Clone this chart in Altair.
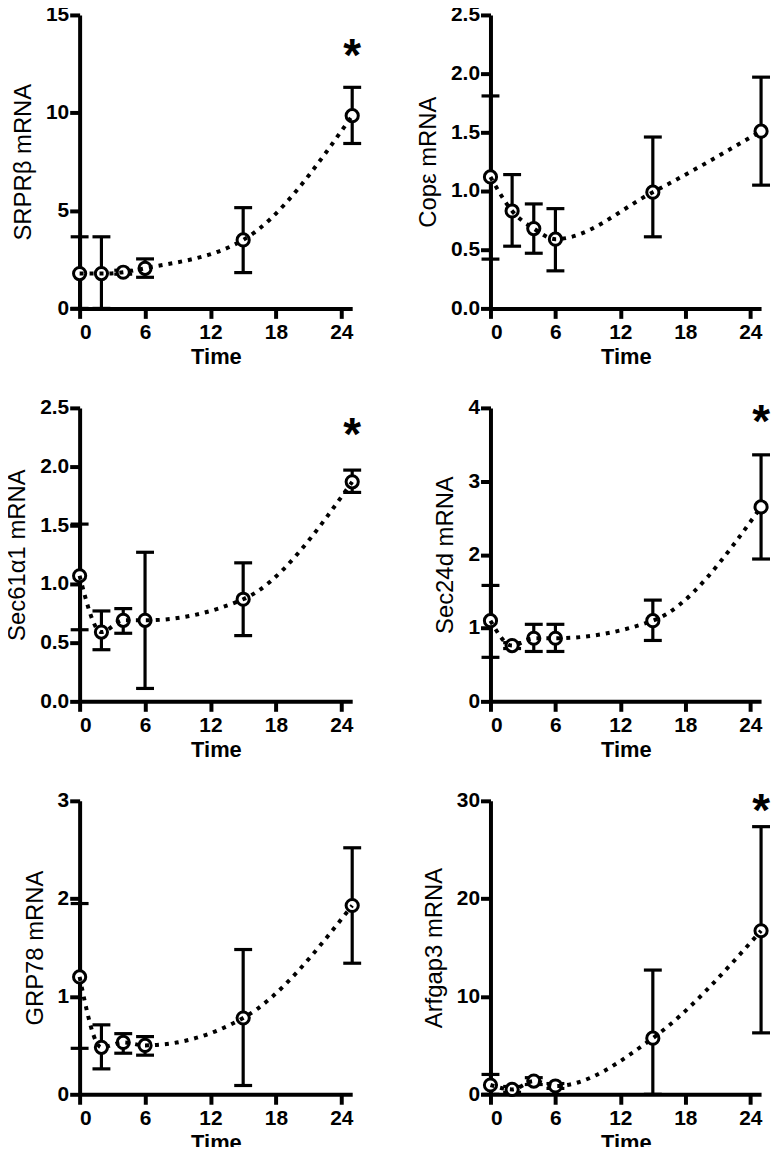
import altair as alt
import pandas as pd

time = [0, 2, 4, 6, 15, 25]
x_ticks = [0, 6, 12, 18, 24]

srpr_mean = [1.78, 1.78, 1.85, 2.05, 3.50, 9.85]
srpr_hi = [3.66, 3.66, 1.95, 2.53, 5.15, 11.30]
srpr_lo = [0.00, 0.00, 1.75, 1.59, 1.83, 8.43]

cope_mean = [1.12, 0.83, 0.68, 0.59, 0.99, 1.51]
cope_hi = [1.81, 1.14, 0.89, 0.85, 1.46, 1.97]
cope_lo = [0.42, 0.53, 0.47, 0.32, 0.61, 1.05]

sec61_mean = [1.07, 0.59, 0.69, 0.69, 0.87, 1.87]
sec61_hi = [1.51, 0.77, 0.79, 1.27, 1.18, 1.97]
sec61_lo = [0.61, 0.44, 0.58, 0.11, 0.56, 1.78]

sec24_mean = [1.10, 0.76, 0.86, 0.86, 1.10, 2.65]
sec24_hi = [1.58, 0.80, 1.05, 1.05, 1.38, 3.36]
sec24_lo = [0.60, 0.72, 0.68, 0.68, 0.83, 1.94]

grp_mean = [1.20, 0.48, 0.53, 0.50, 0.78, 1.93]
grp_hi = [1.95, 0.71, 0.62, 0.59, 1.48, 2.52]
grp_lo = [0.47, 0.26, 0.42, 0.40, 0.09, 1.34]

arf_mean = [0.95, 0.50, 1.35, 0.85, 5.74, 16.72]
arf_hi = [2.03, 0.80, 1.70, 1.10, 12.70, 27.36]
arf_lo = [0.00, 0.20, 1.00, 0.60, 0.00, 6.28]

star_x = [25]
srpr_star = [13.3]
sec61_star = [2.34]
sec24_star = [3.92]
arf_star = [29.8]

FONT = "Liberation Sans"


def panel(title, mean, lo, hi, ymax, yticks, fmt, width, star=None):
    df = pd.DataFrame({"t": time, "m": mean, "lo": lo, "hi": hi})
    xs = alt.Scale(domain=[0, 25], nice=False, zero=False)
    ys = alt.Scale(domain=[0, ymax], nice=False)
    xax = alt.Axis(
        values=x_ticks, title="Time", titleFontSize=22, titleFontWeight="bold",
        titlePadding=4, labelPadding=3,
    )
    yax = alt.Axis(
        values=yticks, format=fmt, title=title, titleFontSize=24,
        titleFontWeight="normal", titlePadding=10, labelPadding=1,
    )
    x = alt.X("t:Q", scale=xs, axis=xax)
    base = alt.Chart(df)
    bars = base.mark_rule(color="black", strokeWidth=3.2).encode(
        x=x, y=alt.Y("lo:Q", scale=ys, axis=yax), y2="hi:Q"
    )
    caps = base.transform_fold(["lo", "hi"], as_=["k", "v"]).mark_rule(
        color="black", strokeWidth=3.2, xOffset=-9, x2Offset=9
    ).encode(x=x, x2="t:Q", y=alt.Y("v:Q", scale=ys, axis=yax))
    pts = base.mark_circle(
        size=150, fill="white", stroke="black", strokeWidth=3, opacity=1
    ).encode(x=x, y=alt.Y("m:Q", scale=ys, axis=yax))
    line = base.mark_line(
        color="black", strokeWidth=4, strokeDash=[4, 6], interpolate="monotone"
    ).encode(x=x, y=alt.Y("m:Q", scale=ys, axis=yax))
    layers = [bars, caps, pts, line]
    if star is not None:
        sdf = pd.DataFrame({"t": star_x, "s": star})
        st = alt.Chart(sdf).mark_text(
            text="*", fontSize=46, fontWeight="bold", font=FONT, baseline="middle", dy=9
        ).encode(x=x, y=alt.Y("s:Q", scale=ys, axis=yax))
        layers.append(st)
    return alt.layer(*layers).properties(width=width, height=295)


WL, WR = 274, 272
p1 = panel("SRPRβ mRNA", srpr_mean, srpr_lo, srpr_hi, 15, [0, 5, 10, 15], "d", WL, srpr_star)
p2 = panel("Copε mRNA", cope_mean, cope_lo, cope_hi, 2.5, [0, 0.5, 1, 1.5, 2, 2.5], ".1f", WR)
p3 = panel("Sec61α1 mRNA", sec61_mean, sec61_lo, sec61_hi, 2.5, [0, 0.5, 1, 1.5, 2, 2.5], ".1f", WL, sec61_star)
p4 = panel("Sec24d mRNA", sec24_mean, sec24_lo, sec24_hi, 4, [0, 1, 2, 3, 4], "d", WR, sec24_star)
p5 = panel("GRP78 mRNA", grp_mean, grp_lo, grp_hi, 3, [0, 1, 2, 3], "d", WL)
p6 = panel("Arfgap3 mRNA", arf_mean, arf_lo, arf_hi, 30, [0, 10, 20, 30], "d", WR, arf_star)

chart = alt.concat(
    p1, p2, p3, p4, p5, p6, columns=2, spacing={"row": 100, "column": 139}, bounds="flush"
).properties(
    padding={"left": -3, "top": -7, "right": -1, "bottom": -9}, background="white"
).configure_view(stroke=None).configure_axis(
    grid=False,
    domainColor="black",
    domainWidth=4,
    tickColor="black",
    tickWidth=4,
    tickSize=10,
    labelColor="black",
    titleColor="black",
    labelFont=FONT,
    titleFont=FONT,
    labelFontSize=21,
    labelFontWeight="bold",
)

chart.save("out.html", embed_options={"renderer": "svg", "actions": False})
